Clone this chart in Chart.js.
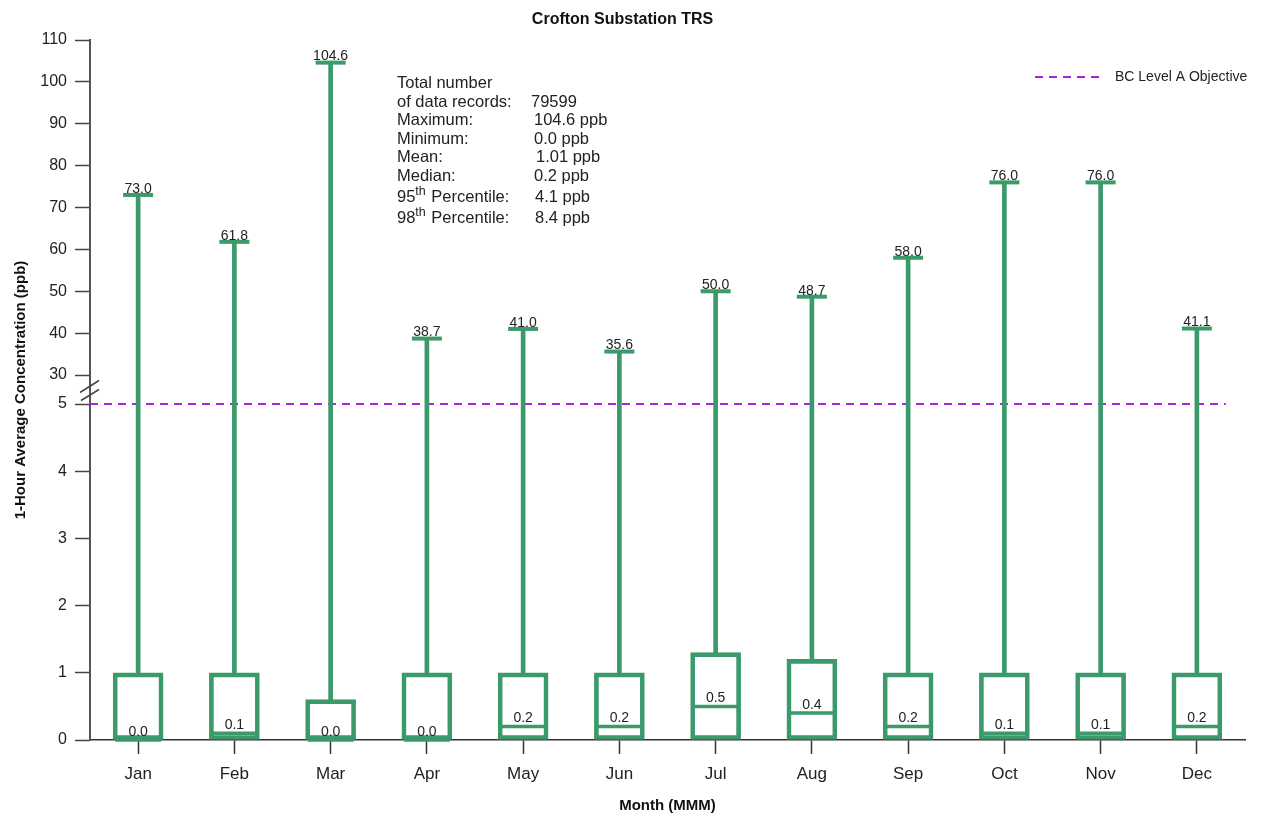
<!DOCTYPE html>
<html lang="en">
<head>
    <meta charset="UTF-8">
    <title>Crofton Substation TRS</title>
    <style>
        body {
            margin: 0;
            padding: 0;
            background-color: #ffffff;
        }

        canvas {
            display: block;
        }
    </style>
</head>
<body>
    <canvas id="boxChart" width="1262" height="821"></canvas>

    <script src="https://cdn.jsdelivr.net/npm/chart.js"></script>
    <script>
        // monthly box plot values (ppb)
        const months = ['Jan', 'Feb', 'Mar', 'Apr', 'May', 'Jun', 'Jul', 'Aug', 'Sep', 'Oct', 'Nov', 'Dec'];
        const lowerQuartile = [0, 0, 0, 0, 0, 0, 0, 0, 0, 0, 0, 0];
        const upperQuartile = [1.0, 1.0, 0.6, 1.0, 1.0, 1.0, 1.3, 1.2, 1.0, 1.0, 1.0, 1.0];
        const medians = [0.0, 0.1, 0.0, 0.0, 0.2, 0.2, 0.5, 0.4, 0.2, 0.1, 0.1, 0.2];
        const maximums = [73.0, 61.8, 104.6, 38.7, 41.0, 35.6, 50.0, 48.7, 58.0, 76.0, 76.0, 41.1];

        // objective line, drawn from the axis to just short of the right edge (month index units)
        const objectiveLevel = 5;
        const objectiveSpan = [-0.5, 11.3];

        // broken y axis: 0-5 below the break, 30-110 above it
        const yTicks = [0, 1, 2, 3, 4, 5, 30, 40, 50, 60, 70, 80, 90, 100, 110];
        const breakLow = 5;
        const breakHigh = 30;

        const statLabels = ['Total number', 'of data records:', 'Maximum:', 'Minimum:', 'Mean:', 'Median:', '95|th| Percentile:', '98|th| Percentile:'];
        const statValues = ['', '79599', '104.6 ppb', '0.0 ppb', '1.01 ppb', '0.2 ppb', '4.1 ppb', '8.4 ppb'];

        const green = '#3a9a6a';
        const purple = '#a822e0';

        // share of the axis length given to each part
        const lowerShare = 336 / 700;
        const gapShare = 29 / 700;

        class BrokenScale extends Chart.LinearScale {
            toDecimal(v) {
                const top = this.max;
                if (v <= breakLow) return (v / breakLow) * lowerShare;
                if (v >= breakHigh) {
                    return lowerShare + gapShare + (v - breakHigh) / (top - breakHigh) * (1 - lowerShare - gapShare);
                }
                return lowerShare + (v - breakLow) / (breakHigh - breakLow) * gapShare;
            }
            fromDecimal(d) {
                const top = this.max;
                if (d <= lowerShare) return d / lowerShare * breakLow;
                if (d >= lowerShare + gapShare) {
                    return breakHigh + (d - lowerShare - gapShare) / (1 - lowerShare - gapShare) * (top - breakHigh);
                }
                return breakLow + (d - lowerShare) / gapShare * (breakHigh - breakLow);
            }
            buildTicks() {
                return yTicks.map(v => ({ value: v }));
            }
            getPixelForValue(value) {
                if (value === null || isNaN(value)) return NaN;
                return this.getPixelForDecimal(this.toDecimal(value));
            }
            getValueForPixel(pixel) {
                return this.fromDecimal(this.getDecimalForPixel(pixel));
            }
        }
        BrokenScale.id = 'broken';
        BrokenScale.defaults = {};
        Chart.register(BrokenScale);

        const fontFamily = '"Liberation Sans", Arial, sans-serif';

        const extrasPlugin = {
            id: 'extras',
            afterDatasetsDraw(chart) {
                const ctx = chart.ctx;
                const x = chart.scales.x;
                const y = chart.scales.y;
                const area = chart.chartArea;
                ctx.save();

                // value labels above caps and medians
                ctx.fillStyle = '#222';
                ctx.font = '14px ' + fontFamily;
                ctx.textAlign = 'center';
                ctx.textBaseline = 'bottom';
                months.forEach((m, i) => {
                    const cx = x.getPixelForValue(i);
                    ctx.fillText(maximums[i].toFixed(1), cx, y.getPixelForValue(maximums[i]) + 1);
                    ctx.fillText(medians[i].toFixed(1), cx, y.getPixelForValue(medians[i]) - 1);
                });

                // axis break marks
                const yb = (y.getPixelForValue(breakLow) + y.getPixelForValue(breakHigh)) / 2;
                ctx.strokeStyle = '#444';
                ctx.lineWidth = 1.5;
                ctx.beginPath();
                ctx.moveTo(area.left - 10, yb + 3);
                ctx.lineTo(area.left + 9, yb - 9);
                ctx.moveTo(area.left - 9, yb + 11);
                ctx.lineTo(area.left + 9, yb);
                ctx.stroke();

                // legend for the objective line
                const ds = chart.data.datasets[4];
                const ly = area.top + 37;
                ctx.strokeStyle = ds.borderColor;
                ctx.lineWidth = ds.borderWidth;
                ctx.setLineDash(ds.borderDash);
                ctx.beginPath();
                ctx.moveTo(area.right - 210, ly);
                ctx.lineTo(area.right - 143, ly);
                ctx.stroke();
                ctx.setLineDash([]);
                ctx.fillStyle = '#222';
                ctx.textAlign = 'left';
                ctx.textBaseline = 'middle';
                ctx.font = '14px ' + fontFamily;
                ctx.fillText(ds.label, area.right - 130, ly);

                // summary statistics
                const lineY = [83, 102, 120, 139, 157, 176, 197, 218];
                const valX = [0, 531, 534, 534, 536, 534, 535, 535];
                const bigFont = '16.5px ' + fontFamily;
                statLabels.forEach((lab, i) => {
                    const parts = lab.split('|');
                    let px = 397;
                    ctx.textBaseline = 'middle';
                    ctx.font = bigFont;
                    if (parts.length === 3) {
                        ctx.fillText(parts[0], px, lineY[i]);
                        px += ctx.measureText(parts[0]).width;
                        ctx.font = '12.5px ' + fontFamily;
                        ctx.fillText(parts[1], px, lineY[i] - 5);
                        px += ctx.measureText(parts[1]).width + 1;
                        ctx.font = bigFont;
                        ctx.fillText(parts[2], px, lineY[i]);
                    } else {
                        ctx.fillText(lab, px, lineY[i]);
                    }
                    if (statValues[i]) ctx.fillText(statValues[i], valX[i], lineY[i]);
                });
                ctx.restore();
            }
        };

        const ctx = document.getElementById('boxChart').getContext('2d');
        const chart = new Chart(ctx, {
            type: 'bar',
            data: {
                labels: months,
                datasets: [
                    {
                        label: 'Whisker',
                        data: months.map((m, i) => [upperQuartile[i], maximums[i]]),
                        backgroundColor: green,
                        borderWidth: 0,
                        barThickness: 4,
                        grouped: false,
                        order: 3
                    },
                    {
                        label: 'Box',
                        data: months.map((m, i) => [lowerQuartile[i], upperQuartile[i]]),
                        backgroundColor: 'rgba(255,255,255,0)',
                        borderColor: green,
                        borderWidth: 4,
                        borderSkipped: false,
                        barThickness: 50,
                        grouped: false,
                        order: 2
                    },
                    {
                        label: 'Maximum',
                        type: 'line',
                        data: maximums,
                        showLine: false,
                        pointStyle: 'line',
                        pointRadius: 15,
                        pointHoverRadius: 15,
                        pointBorderWidth: 4,
                        pointHoverBorderWidth: 4,
                        borderColor: green,
                        clip: false,
                        order: 1
                    },
                    {
                        label: 'Median',
                        type: 'line',
                        data: medians,
                        showLine: false,
                        pointStyle: 'line',
                        pointRadius: 23,
                        pointHoverRadius: 23,
                        pointBorderWidth: 3.5,
                        pointHoverBorderWidth: 3.5,
                        borderColor: green,
                        clip: false,
                        order: 1
                    },
                    {
                        label: 'BC Level A Objective',
                        type: 'line',
                        xAxisID: 'xo',
                        data: objectiveSpan.map(v => ({ x: v, y: objectiveLevel })),
                        borderColor: purple,
                        borderWidth: 2,
                        borderDash: [8, 6],
                        pointRadius: 0,
                        fill: false,
                        order: 4
                    }
                ]
            },
            options: {
                responsive: false,
                animation: false,
                layout: {
                    autoPadding: false,
                    padding: { left: 0, right: 17, top: 0, bottom: 0 }
                },
                plugins: {
                    legend: { display: false },
                    tooltip: { enabled: false },
                    title: {
                        display: true,
                        text: 'Crofton Substation TRS',
                        color: '#111',
                        font: { family: fontFamily, size: 16, weight: 'bold' },
                        padding: { top: 10, bottom: 10.8 }
                    }
                },
                scales: {
                    x: {
                        type: 'category',
                        offset: true,
                        grid: {
                            offset: false,
                            drawOnChartArea: false,
                            tickLength: 14,
                            tickWidth: 1.5,
                            tickColor: '#333'
                        },
                        border: { color: '#333', width: 1.5 },
                        ticks: {
                            color: '#222',
                            padding: 10,
                            font: { family: fontFamily, size: 17 }
                        },
                        title: {
                            display: true,
                            text: 'Month (MMM)',
                            color: '#111',
                            font: { family: fontFamily, size: 15, weight: 'bold' },
                            padding: { top: 0, bottom: 6 }
                        },
                        afterFit(scale) {
                            scale.height = 81;
                            scale.paddingLeft = 0;
                            scale.paddingRight = 0;
                        }
                    },
                    xo: {
                        type: 'linear',
                        display: false,
                        offset: false,
                        grid: { offset: false },
                        min: -0.5,
                        max: 11.5
                    },
                    y: {
                        type: 'broken',
                        min: 0,
                        max: 110,
                        grid: {
                            drawOnChartArea: false,
                            tickLength: 15,
                            tickWidth: 1.5,
                            tickColor: '#444'
                        },
                        border: { color: '#555', width: 2 },
                        ticks: {
                            autoSkip: false,
                            color: '#222',
                            padding: 8,
                            font: { family: fontFamily, size: 16 },
                            callback: v => String(v)
                        },
                        title: {
                            display: true,
                            text: '1-Hour Average Concentration (ppb)',
                            color: '#111',
                            font: { family: fontFamily, size: 15, weight: 'bold' },
                            padding: { top: 12, bottom: 0 }
                        },
                        afterFit(scale) { scale.width = 90; }
                    }
                }
            },
            plugins: [extrasPlugin]
        });
    </script>
</body>
</html>
